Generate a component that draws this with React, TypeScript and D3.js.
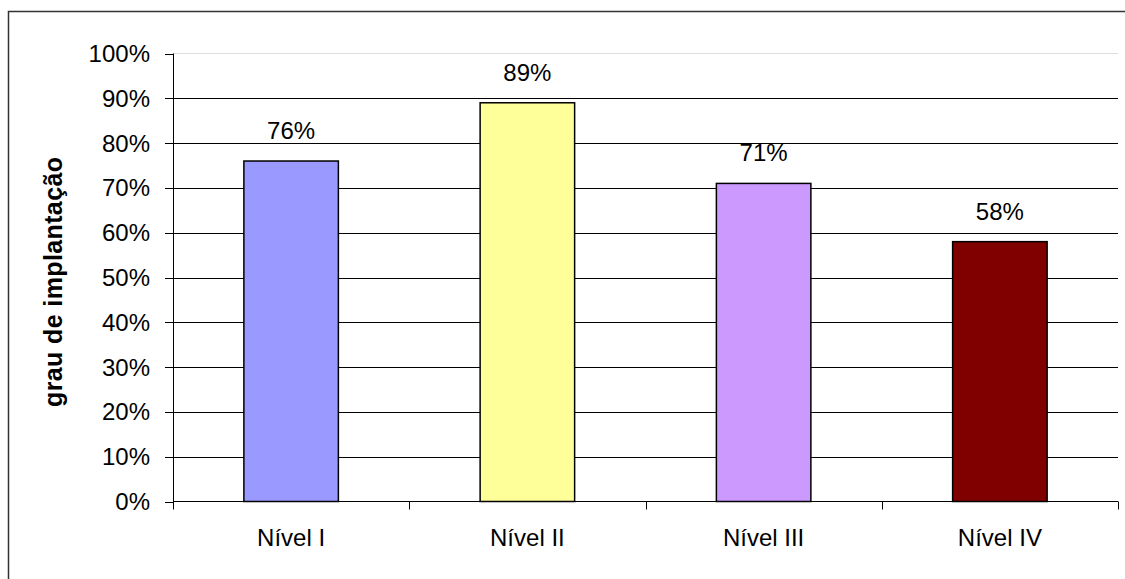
import React from "react";
import * as d3 from "d3";

const categories = ["Nível I", "Nível II", "Nível III", "Nível IV"];
const values = [0.76, 0.89, 0.71, 0.58];
const valueLabels = ["76%", "89%", "71%", "58%"];
const colors = ["#9999FF", "#FFFF99", "#CC99FF", "#800000"];
const yTicks = [0, 0.1, 0.2, 0.3, 0.4, 0.5, 0.6, 0.7, 0.8, 0.9, 1.0];
const yTitle = "grau de implantação";

export default function App() {
  const W = 1125, H = 579;
  const left = 173, right = 1118, top = 53.5, bottom = 501.5;
  const x = d3.scaleBand<string>().domain(categories).range([left, right]).paddingInner(0.6).paddingOuter(0.3);
  const xb = d3.scaleBand<string>().domain(categories).range([left, right]);
  const y = d3.scaleLinear().domain([0, 1]).range([bottom, top]);
  const font = "'Liberation Sans', Arial, sans-serif";
  return (
    <svg width={W} height={H} style={{ position: "absolute", left: 0, top: 0, background: "#fff" }}>
      <rect x={8.5} y={11.5} width={W + 10} height={H + 10} fill="#fff" stroke="#333" strokeWidth={1.5} />
      <line x1={left} x2={right} y1={y(1)} y2={y(1)} stroke="#ddd" strokeWidth={1} />
      {yTicks.slice(1, -1).map((t) => (
        <line key={"g" + t} x1={left} x2={right} y1={Math.round(y(t)) + 0.5} y2={Math.round(y(t)) + 0.5} stroke="#000" strokeWidth={1} />
      ))}
      {categories.map((c, i) => (
        <rect key={c} x={x(c)!} y={y(values[i])} width={x.bandwidth()} height={bottom - y(values[i])}
          fill={colors[i]} stroke="#000" strokeWidth={1.5} />
      ))}
      <line x1={left + 0.5} x2={left + 0.5} y1={y(1)} y2={bottom} stroke="#000" />
      {yTicks.map((t) => (
        <g key={"t" + t}>
          <line x1={left - 8} x2={left} y1={Math.round(y(t)) + 0.5} y2={Math.round(y(t)) + 0.5} stroke="#000" />
          <text x={150} y={y(t) + 8.5} textAnchor="end" fontFamily={font} fontSize={24} fill="#000">
            {d3.format(".0%")(t)}
          </text>
        </g>
      ))}
      <line x1={left} x2={right} y1={bottom} y2={bottom} stroke="#000" />
      {[...categories.map((c) => xb(c)!), right].map((px, i) => (
        <line key={"xt" + i} x1={Math.round(px) + 0.5} x2={Math.round(px) + 0.5} y1={bottom} y2={bottom + 8} stroke="#000" />
      ))}
      {categories.map((c) => (
        <text key={"xl" + c} x={xb(c)! + xb.bandwidth() / 2} y={546} textAnchor="middle" fontFamily={font} fontSize={24} fill="#000">
          {c}
        </text>
      ))}
      {categories.map((c, i) => (
        <text key={"vl" + c} x={x(c)! + x.bandwidth() / 2} y={y(values[i]) - 22} textAnchor="middle" fontFamily={font} fontSize={24} fill="#000">
          {valueLabels[i]}
        </text>
      ))}
      <text transform={`translate(62, 282) rotate(-90)`} textAnchor="middle" fontFamily={font} fontSize={25} fontWeight="bold" fill="#000"
        textLength={250} lengthAdjust="spacing">
        {yTitle}
      </text>
    </svg>
  );
}
